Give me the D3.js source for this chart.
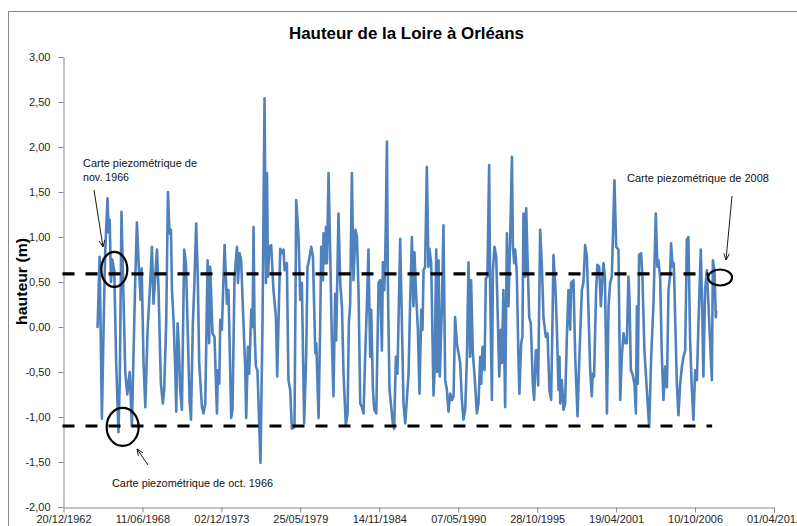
<!DOCTYPE html>
<html>
<head>
<meta charset="utf-8">
<script src="https://cdn.jsdelivr.net/npm/d3@7"></script>
<style>
html,body{margin:0;padding:0;background:#fff;}
svg{display:block;}
text{font-family:"Liberation Sans",Arial,sans-serif;}
</style>
</head>
<body>
<div id="chart"></div>
<script>
// ---- DATA ----
const titleText = "Hauteur de la Loire à Orléans";
const yAxisTitle = "hauteur (m)";
const yTicks = [-2, -1.5, -1, -0.5, 0, 0.5, 1, 1.5, 2, 2.5, 3];
// x ticks : every 2000 days from 20/12/1962 (Excel date axis)
const xTickLabels = ["20/12/1962","11/06/1968","02/12/1973","25/05/1979","14/11/1984","07/05/1990","28/10/1995","19/04/2001","10/10/2006","01/04/2012"];

// dates as decimal years
const years = [
1965.33,1965.47,1965.63,1965.76,1965.86,1966.02,1966.10,1966.17,1966.26,1966.35,1966.49,1966.62,1966.78,1966.87,1966.99,
1967.11,1967.25,1967.39,1967.56,1967.71,1967.84,1967.94,1968.06,1968.18,1968.32,1968.39,1968.52,1968.64,1968.80,1968.98,
1969.10,1969.21,1969.33,1969.45,1969.56,1969.72,1969.86,1969.95,1970.09,1970.21,1970.32,1970.42,1970.49,1970.60,1970.72,
1970.79,1970.88,1970.97,1971.06,1971.18,1971.34,1971.46,1971.57,1971.71,1971.81,1971.94,1972.03,1972.17,1972.28,1972.38,
1972.57,1972.68,1972.80,1972.96,1973.07,1973.14,1973.30,1973.44,1973.61,1973.68,1973.77,1973.84,1973.95,1974.14,1974.30,
1974.41,1974.60,1974.69,1974.83,1975.00,1975.07,1975.18,1975.29,1975.45,1975.57,1975.64,1975.76,1975.85,1975.99,1976.08,
1976.15,1976.22,1976.31,1976.42,1976.63,1976.77,1976.91,1977.01,1977.08,1977.15,1977.24,1977.37,1977.53,1977.70,1977.79,
1978.00,1978.12,1978.23,1978.30,1978.46,1978.57,1978.69,1978.81,1978.99,1979.11,1979.27,1979.39,1979.50,1979.66,1979.80,
1979.89,1979.96,1980.15,1980.27,1980.43,1980.50,1980.66,1980.77,1980.84,1980.96,1981.00,1981.12,1981.17,1981.24,1981.35,
1981.47,1981.58,1981.69,1981.81,1981.88,1982.04,1982.16,1982.28,1982.39,1982.55,1982.67,1982.76,1982.85,1982.97,1983.08,
1983.22,1983.32,1983.43,1983.55,1983.66,1983.78,1983.89,1984.01,1984.12,1984.24,1984.31,1984.43,1984.52,1984.66,1984.82,
1984.93,1985.05,1985.12,1985.21,1985.28,1985.40,1985.47,1985.58,1985.70,1985.81,1985.90,1986.02,1986.13,1986.32,1986.44,
1986.55,1986.67,1986.90,1987.01,1987.13,1987.24,1987.31,1987.43,1987.55,1987.66,1987.78,1987.87,1987.94,1988.05,1988.17,
1988.28,1988.35,1988.47,1988.63,1988.70,1988.82,1988.89,1988.98,1989.07,1989.21,1989.32,1989.44,1989.56,1989.67,1989.79,
1989.91,1990.02,1990.13,1990.25,1990.41,1990.48,1990.60,1990.71,1990.83,1990.95,1991.06,1991.17,1991.24,1991.36,1991.47,
1991.64,1991.75,1991.87,1991.94,1992.03,1992.17,1992.26,1992.37,1992.49,1992.56,1992.68,1992.75,1992.86,1992.98,1993.10,
1993.19,1993.30,1993.37,1993.48,1993.60,1993.72,1993.83,1993.95,1994.07,1994.14,1994.23,1994.30,1994.41,1994.52,1994.59,
1994.71,1994.80,1994.87,1994.99,1995.06,1995.15,1995.27,1995.38,1995.52,1995.61,1995.73,1995.80,1995.89,1996.03,1996.15,
1996.26,1996.42,1996.54,1996.67,1996.79,1996.88,1996.95,1997.07,1997.19,1997.30,1997.37,1997.42,1997.53,1997.65,1997.76,
1997.88,1997.99,1998.11,1998.18,1998.34,1998.46,1998.62,1998.75,1998.92,1999.03,1999.15,1999.27,1999.38,1999.50,1999.61,
1999.68,1999.77,1999.91,2000.00,2000.12,2000.24,2000.33,2000.42,2000.52,2000.66,2000.77,2000.88,2001.00,2001.18,2001.30,
2001.46,2001.58,2001.69,2001.81,2001.92,2002.04,2002.15,2002.22,2002.32,2002.43,2002.57,2002.67,2002.74,2002.80,2002.89,
2003.03,2003.12,2003.26,2003.43,2003.59,2003.73,2003.89,2004.05,2004.16,2004.23,2004.35,2004.47,2004.58,2004.70,2004.82,
2004.93,2005.04,2005.11,2005.21,2005.30,2005.39,2005.51,2005.62,2005.74,2005.86,2005.97,2006.09,2006.20,2006.31,2006.43,
2006.55,2006.66,2006.78,2006.90,2007.01,2007.17,2007.28,2007.35,2007.47,2007.59,2007.70,2007.82,2007.94,2008.01,2008.12,
2008.21,2008.24
];
const heights = [
0.00,0.78,-1.02,0.11,0.84,1.43,1.05,1.19,0.50,0.75,0.62,-0.40,-1.17,-0.60,1.28,
0.45,-0.50,-0.75,-0.50,-1.10,-0.20,0.50,1.16,0.70,0.30,0.65,-0.40,-0.89,-0.03,0.49,
0.89,0.26,0.56,0.86,0.41,-0.63,-0.85,-0.70,0.04,1.50,1.04,1.08,0.41,0.08,-0.48,
-0.94,0.04,-0.22,-0.70,-0.92,0.86,0.71,0.04,-0.81,-1.03,0.04,0.41,1.15,0.56,-0.40,
-0.89,-0.96,-0.85,0.74,-0.18,0.67,-0.07,-0.11,-0.96,-0.48,-0.63,0.08,-0.03,0.91,0.26,
0.41,-1.01,-0.92,0.56,0.89,0.49,0.82,0.74,0.04,-0.44,-1.01,-0.22,-0.52,0.19,0.00,
1.11,-0.03,-0.44,-0.48,-1.51,0.04,2.54,0.49,1.71,0.56,0.89,0.91,0.41,0.11,-0.55,
0.87,0.82,0.86,0.63,0.71,-0.59,-0.70,-1.13,-1.11,1.41,1.00,0.30,0.49,-1.07,-0.33,
0.67,0.71,0.89,0.78,-0.29,-0.18,-1.01,0.04,0.89,0.52,1.04,0.71,1.11,0.71,1.71,
0.78,-0.15,-0.77,0.37,-0.15,1.26,0.49,0.23,-0.52,-1.09,-0.96,0.04,0.26,1.71,0.52,
1.08,1.00,0.41,-0.85,-0.89,-0.96,-0.33,0.23,0.86,-0.33,0.19,-0.70,-0.92,-0.96,0.49,
0.52,-0.26,0.72,0.41,0.71,2.06,0.41,-0.70,-0.89,-1.07,-1.13,-0.33,-0.52,0.98,0.04,
-0.85,-1.07,-0.52,0.26,1.00,0.23,0.83,0.34,-0.03,-0.74,0.19,-0.03,0.63,0.67,1.78,
0.67,0.87,0.71,-0.76,-0.52,0.86,-0.50,0.74,-0.55,0.23,1.13,-0.59,-0.70,-0.94,-0.74,
-0.81,-0.77,0.11,-0.18,-0.33,-0.40,-0.81,-1.03,-0.92,-0.33,0.72,-0.33,0.52,-0.29,-0.52,
-0.96,-0.85,-0.33,-0.63,-0.22,-0.48,0.54,0.56,1.80,0.41,-0.81,0.63,0.89,0.78,0.04,
-0.55,-0.03,-0.40,0.41,-0.89,1.04,0.23,1.00,1.89,0.89,0.71,0.86,0.60,-0.33,-0.74,
-0.18,-0.11,1.26,0.56,1.32,0.78,0.11,0.04,-0.63,-0.81,-0.26,-0.26,-0.65,1.08,0.67,
0.11,-0.11,-0.07,-0.70,-0.81,0.04,0.80,0.49,-0.03,-0.70,-0.33,-0.85,-0.59,-0.92,-0.85,
-0.11,0.41,-0.03,0.49,0.52,-0.33,-0.99,-0.33,0.41,0.49,0.91,0.78,0.19,-0.48,-0.77,
-0.52,-0.55,0.41,0.69,0.67,0.23,0.49,0.71,0.56,-0.96,0.23,0.49,0.56,1.63,0.89,
0.86,-0.81,-0.33,-0.07,-0.18,-0.18,0.56,0.34,-0.48,-0.52,-0.63,-0.96,0.23,-0.63,0.80,
0.82,0.56,-0.26,-0.70,-1.11,-0.33,0.26,1.26,0.67,0.74,0.56,-0.33,-0.81,-0.44,-0.67,
0.41,0.57,0.93,0.67,0.71,0.11,-0.63,-0.98,-0.63,-0.44,-0.33,-0.26,0.97,1.00,-0.15,
-0.70,-1.03,-0.48,-0.59,0.04,0.86,0.11,-0.55,0.41,0.63,0.26,-0.18,-0.59,0.74,0.63,
0.11,0.17
];

// reference levels of the two piezometric maps (height, end of dashed line as decimal year)
const refLevels = [0.59, -1.10];
const refEndYears = [2007.68, 2007.96];

// annotations
const noteTexts = [["Carte piezométrique de", "nov. 1966"], ["Carte piezométrique de oct. 1966"], ["Carte piezométrique de 2008"]];
const circleYears = [1966.49, 1967.07, 2008.51];
const circleHeights = [0.64, -1.11, 0.55];

// ---- HELPERS ----
function decYear(y){
  const yr = Math.floor(y);
  const s = Date.UTC(yr,0,1), e = Date.UTC(yr+1,0,1);
  return new Date(s + (y-yr)*(e-s));
}
const DAY = 86400000;
const x0 = Date.UTC(1962,11,20);
const xTickDates = xTickLabels.map((_,i)=> new Date(x0 + i*2000*DAY));

const W = 797, H = 526;
const svg = d3.select("#chart").append("svg").attr("width",W).attr("height",H);
svg.append("rect").attr("width",W).attr("height",H).attr("fill","#fff");
// outer chart border
svg.append("rect").attr("x",8.5).attr("y",11.5).attr("width",900).attr("height",600)
  .attr("fill","none").attr("stroke","#878787").attr("stroke-width",1);

const x = d3.scaleUtc().domain([xTickDates[0], xTickDates[xTickDates.length-1]]).range([63.5, 774]);
const y = d3.scaleLinear().domain([-2,3]).range([507,57]);

const axisColor = "#868686";
const gy = svg.append("g").attr("transform","translate(63.5,0)")
  .call(d3.axisLeft(y).tickValues(yTicks).tickSize(5).tickSizeOuter(0).tickPadding(8)
    .tickFormat(v => v.toFixed(2).replace(".", ",")));
const gx = svg.append("g").attr("transform","translate(0,507.5)")
  .call(d3.axisBottom(x).tickValues(xTickDates).tickSize(5).tickSizeOuter(0).tickPadding(3)
    .tickFormat((d,i)=> xTickLabels[i]));
[gx,gy].forEach(g=>{
  g.select(".domain").attr("stroke",axisColor);
  g.selectAll(".tick line").attr("stroke",axisColor);
  g.selectAll(".tick text").attr("fill","#262626").style("font-size","11px")
   .style("font-family",'"Liberation Sans",Arial,sans-serif');
});

// data line
const pts = years.map((yr,i)=>({d:decYear(yr), v:heights[i]}));
svg.append("path").datum(pts)
  .attr("fill","none").attr("stroke","#4F81BD").attr("stroke-width",2.6)
  .attr("stroke-linejoin","round").attr("stroke-linecap","round")
  .attr("d", d3.line().x(p=>x(p.d)).y(p=>y(p.v)));

// dashed reference lines
refLevels.forEach((lv,i)=>{
  svg.append("line")
    .attr("x1", x(xTickDates[0])-1).attr("x2", x(decYear(refEndYears[i])))
    .attr("y1", y(lv)).attr("y2", y(lv))
    .attr("stroke","#000").attr("stroke-width",3.2).attr("stroke-dasharray","12,11");
});

// ellipses
const ellSizes = [[13,17.5],[16,19],[12,8]];
circleYears.forEach((yr,i)=>{
  svg.append("ellipse").attr("cx", x(decYear(yr))).attr("cy", y(circleHeights[i]))
    .attr("rx", ellSizes[i][0]).attr("ry", ellSizes[i][1])
    .attr("fill","none").attr("stroke","#000").attr("stroke-width",2.2);
});

// arrows
function arrow(x1,y1,x2,y2){
  svg.append("line").attr("x1",x1).attr("y1",y1).attr("x2",x2).attr("y2",y2)
    .attr("stroke","#000").attr("stroke-width",0.9);
  const a = Math.atan2(y2-y1, x2-x1), L = 7, s = 0.4;
  const p = [[x2 - L*Math.cos(a-s), y2 - L*Math.sin(a-s)],[x2,y2],[x2 - L*Math.cos(a+s), y2 - L*Math.sin(a+s)]];
  svg.append("path").attr("d", d3.line()(p)).attr("fill","none").attr("stroke","#000").attr("stroke-width",0.9);
}
arrow(94,190,103,247);
arrow(148,465,137,449);
arrow(732,196,726,260);

// annotation texts
function note(str, tx, ty, len){
  svg.append("text").attr("x",tx).attr("y",ty).text(str)
    .attr("fill","#111").style("font-size","11px")
    .attr("textLength",len).attr("lengthAdjust","spacingAndGlyphs");
}
note(noteTexts[0][0], 83, 166.5, 114);
note(noteTexts[0][1], 83, 181, 46);
note(noteTexts[1][0], 112, 486.5, 161);
note(noteTexts[2][0], 627, 181.5, 142);

// title
svg.append("text").attr("x",406.5).attr("y",38.5).attr("text-anchor","middle")
  .text(titleText).style("font-size","17px").style("font-weight","bold").attr("fill","#000")
  .attr("textLength",235).attr("lengthAdjust","spacingAndGlyphs");

// y-axis title
svg.append("text").attr("transform","translate(27,281.5) rotate(-90)").attr("text-anchor","middle")
  .text(yAxisTitle).style("font-size","15px").style("font-weight","bold").attr("fill","#000")
  .attr("textLength",87).attr("lengthAdjust","spacingAndGlyphs");
</script>
</body>
</html>
